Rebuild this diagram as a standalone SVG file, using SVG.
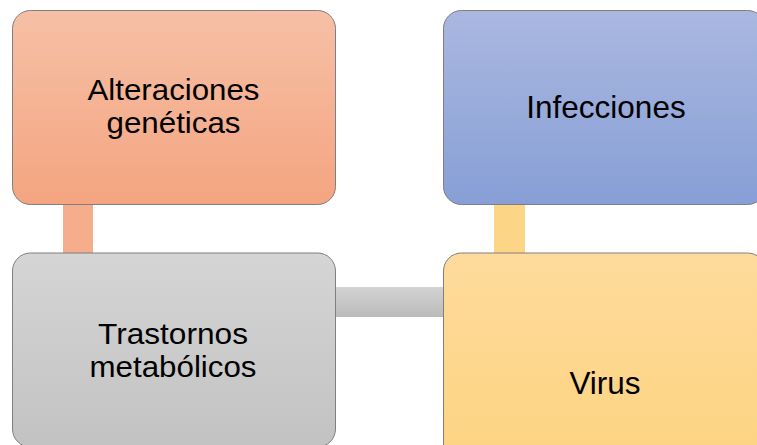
<svg xmlns="http://www.w3.org/2000/svg" width="757" height="445" viewBox="0 0 757 445">
  <defs>
    <linearGradient id="gOrange" x1="0" y1="0" x2="0" y2="1">
      <stop offset="0" stop-color="#F6C0A6"/>
      <stop offset="1" stop-color="#F4A580"/>
    </linearGradient>
    <linearGradient id="gBlue" x1="0" y1="0" x2="0" y2="1">
      <stop offset="0" stop-color="#AAB8E0"/>
      <stop offset="1" stop-color="#879FD6"/>
    </linearGradient>
    <linearGradient id="gGray" x1="0" y1="0" x2="0" y2="1">
      <stop offset="0" stop-color="#D5D5D5"/>
      <stop offset="1" stop-color="#C2C2C2"/>
    </linearGradient>
    <linearGradient id="gYellow" x1="0" y1="0" x2="0" y2="1">
      <stop offset="0" stop-color="#FEDB9C"/>
      <stop offset="1" stop-color="#FDD37F"/>
    </linearGradient>
    <linearGradient id="gGrayBar" x1="0" y1="0" x2="0" y2="1">
      <stop offset="0" stop-color="#D3D3D3"/>
      <stop offset="1" stop-color="#BBBBBB"/>
    </linearGradient>
  </defs>
  <style>
    .box { stroke: #7F7F7F; stroke-width: 1; }
    .lbl { font-family: "Liberation Sans", Arial, sans-serif; font-size: 31.5px; fill: #000; text-anchor: middle; }
    .lbl2 { font-family: "Liberation Sans", Arial, sans-serif; font-size: 29px; fill: #000; text-anchor: middle; }
  </style>
  <rect width="757" height="445" fill="#FFFFFF"/>
  <g id="connectors">
    <rect x="63" y="204" width="30" height="50" fill="#F5AD8B"/>
    <rect x="494" y="204" width="31" height="50" fill="#FDD587"/>
    <rect x="335" y="287" width="109" height="30" fill="url(#gGrayBar)"/>
  </g>
  <g id="node-alteraciones">
    <rect class="box" x="12.5" y="10.5" width="323" height="194" rx="18" ry="18" fill="url(#gOrange)"/>
    <text class="lbl2" x="173.5" y="100" textLength="172" lengthAdjust="spacingAndGlyphs">Alteraciones</text>
    <text class="lbl2" x="173.5" y="133" textLength="134" lengthAdjust="spacingAndGlyphs">genéticas</text>
  </g>
  <g id="node-infecciones">
    <rect class="box" x="443.5" y="10.5" width="322" height="194" rx="18" ry="18" fill="url(#gBlue)"/>
    <text class="lbl" x="606" y="117.5">Infecciones</text>
  </g>
  <g id="node-trastornos">
    <rect class="box" x="12.5" y="253" width="323" height="194" rx="18" ry="18" fill="url(#gGray)"/>
    <text class="lbl2" x="173" y="343.5" textLength="150" lengthAdjust="spacingAndGlyphs">Trastornos</text>
    <text class="lbl2" x="173" y="376.5" textLength="167" lengthAdjust="spacingAndGlyphs">metabólicos</text>
  </g>
  <g id="node-virus">
    <rect class="box" x="443.5" y="253" width="322" height="220" rx="18" ry="18" fill="url(#gYellow)"/>
    <text class="lbl" x="605" y="394">Virus</text>
  </g>
</svg>
